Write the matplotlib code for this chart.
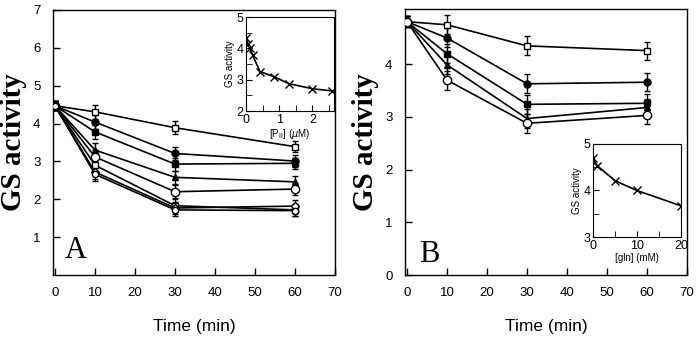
import matplotlib
matplotlib.use("Agg")
import matplotlib.pyplot as plt
import numpy as np

# ---- Data ----
time = [0, 10, 30, 60]

# Panel A series (GS activity)
a_open_sq = [4.47, 4.31, 3.89, 3.39]
a_fill_circ = [4.47, 4.04, 3.21, 3.01]
a_fill_sq = [4.47, 3.78, 2.93, 2.95]
a_fill_tri = [4.47, 3.30, 2.58, 2.46]
a_open_circ = [4.47, 3.12, 2.20, 2.27]
a_open_sq2 = [4.47, 2.90, 1.83, 1.72]
a_open_dia = [4.47, 2.72, 1.77, 1.82]
a_open_circ2 = [4.47, 2.66, 1.72, 1.70]
a_err = [0.12, 0.18, 0.17, 0.15]

# Panel B series
b_open_sq = [4.81, 4.75, 4.35, 4.26]
b_fill_circ = [4.81, 4.50, 3.63, 3.66]
b_fill_sq = [4.81, 4.20, 3.24, 3.26]
b_fill_tri = [4.81, 3.99, 2.97, 3.18]
b_open_circ = [4.81, 3.70, 2.88, 3.03]
b_err = [0.10, 0.18, 0.18, 0.17]

# Inset A: [PII] (uM) vs GS activity
ia_x = [0, 0.06, 0.12, 0.2, 0.42, 0.83, 1.3, 2.0, 2.6]
ia_y = [4.33, 4.15, 4.0, 3.78, 3.26, 3.10, 2.87, 2.71, 2.64]

# Inset B: [gln] (mM) vs GS activity
ib_x = [0, 1, 5, 10, 20]
ib_y = [4.69, 4.53, 4.21, 4.00, 3.67]

serif = "Liberation Serif"
sans = "Liberation Sans"

fig = plt.figure(figsize=(7.0, 3.45), dpi=100)

axA = fig.add_axes([53/700, 70/345, 282/700, 265/345])
axB = fig.add_axes([405/700, 70/345, 282/700, 266/345])

def style_main(ax):
    for s in ax.spines.values():
        s.set_linewidth(1.0)
    ax.tick_params(direction="in", length=5, width=1, labelsize=9.5, pad=9)
    for lab in ax.get_xticklabels() + ax.get_yticklabels():
        lab.set_fontfamily(sans)
    ax.set_xlabel("Time (min)", fontsize=12.5, fontfamily=sans, labelpad=14)
    ax.set_ylabel("GS activity", fontsize=21, fontfamily=serif, fontweight="bold", labelpad=4)

def plot_series(ax, y, err, marker, filled, ms=5):
    ax.errorbar(time, y, yerr=err, color="black", lw=1.2, elinewidth=1.0, capsize=2.5,
                marker=marker, ms=ms, mfc="black" if filled else "white", mec="black", mew=1.0,
                zorder=3)

# Panel A
plot_series(axA, a_open_sq, a_err, "s", False)
plot_series(axA, a_fill_circ, a_err, "o", True)
plot_series(axA, a_fill_sq, a_err, "s", True)
plot_series(axA, a_fill_tri, a_err, "^", True)
plot_series(axA, a_open_circ, a_err, "o", False, ms=6)
plot_series(axA, a_open_sq2, a_err, "s", False)
plot_series(axA, a_open_dia, a_err, "D", False, ms=4.5)
plot_series(axA, a_open_circ2, a_err, "o", False, ms=4.5)
axA.set_xlim(-0.5, 70)
axA.set_ylim(0, 7)
axA.set_xticks(range(0, 71, 10))
axA.set_yticks(range(1, 8))
style_main(axA)
axA.text(2.5, 0.45, "A", fontsize=22, fontfamily=serif)

# Panel B
plot_series(axB, b_open_sq, b_err, "s", False)
plot_series(axB, b_fill_circ, b_err, "o", True)
plot_series(axB, b_fill_sq, b_err, "s", True)
plot_series(axB, b_fill_tri, b_err, "^", True)
plot_series(axB, b_open_circ, b_err, "o", False, ms=6)
axB.set_xlim(-0.5, 70)
axB.set_ylim(0, 5.05)
axB.set_xticks(range(0, 71, 10))
axB.set_yticks(range(0, 5))
style_main(axB)
axB.text(3, 0.25, "B", fontsize=22, fontfamily=serif)

def style_inset(ax):
    ax.tick_params(which="both", direction="in", labelsize=9, pad=2)
    ax.tick_params(which="major", length=4)
    ax.tick_params(which="minor", length=4)
    for lab in ax.get_xticklabels() + ax.get_yticklabels():
        lab.set_fontfamily(sans)
    ax.set_ylabel("GS activity", fontsize=7, fontfamily=sans, labelpad=1)

# Inset A
iA = fig.add_axes([246/700, (345-111)/345, 88/700, 94/345])
iA.plot(ia_x, ia_y, color="black", lw=1.2, marker="x", ms=6, mew=1.0)
iA.set_xlim(0, 2.65)
iA.set_ylim(2, 5)
iA.set_xticks([0, 1, 2])
iA.set_xticks(np.arange(0.5, 2.6, 0.5), minor=True)
iA.set_yticks([2, 3, 4, 5])
iA.set_yticks([2.5, 3.5, 4.5], minor=True)
style_inset(iA)
iA.set_xlabel(r"[P$_{\rm II}$] ($\mu$M)", fontsize=7, fontfamily=sans, labelpad=1)

# Inset B
iB = fig.add_axes([593/700, (345-237)/345, 88/700, 93/345])
iB.plot(ib_x, ib_y, color="black", lw=1.2, marker="x", ms=6, mew=1.0)
iB.set_xlim(0, 20)
iB.set_ylim(3, 5)
iB.set_xticks([0, 10, 20])
iB.set_xticks([5, 15], minor=True)
iB.set_yticks([3, 4, 5])
iB.set_yticks([3.5, 4.5], minor=True)
style_inset(iB)
iB.set_xlabel("[gln] (mM)", fontsize=7, fontfamily=sans, labelpad=1)

fig.savefig("out.png", dpi=100)
